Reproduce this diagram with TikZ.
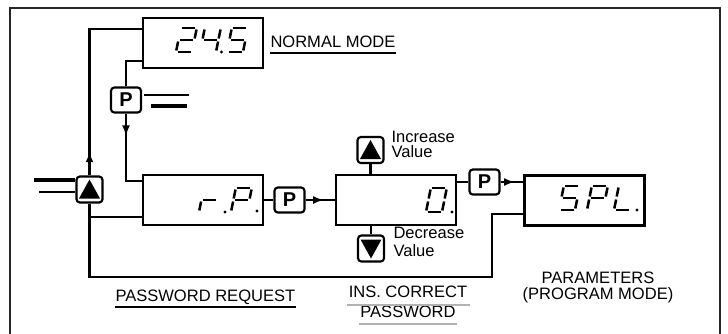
\documentclass[tikz,border=0pt]{standalone}
\usepackage{fontspec}
\setmainfont{Liberation Sans}
\usetikzlibrary{calc,arrows.meta,decorations.markings}

\tikzset{every picture/.style={line width=0.75pt}}
\tikzset{
  wire/.style={line width=1.6pt},
  dispbox/.style={draw,line width=1.6pt,minimum width=90pt,minimum height=37.5pt,inner sep=0pt},
  keybtn/.style={draw,line width=1.6pt,rounded corners=2.5pt,minimum width=22.5pt,minimum height=18.75pt,inner sep=0pt,font=\fontsize{15}{15}\selectfont\bfseries},
  arrowbtn/.style={draw,line width=1.6pt,rounded corners=2.5pt,minimum width=19.5pt,minimum height=19.5pt,inner sep=0pt},
  lbl/.style={inner sep=0pt,font=\fontsize{12.4}{15}\selectfont},
  midarrow/.style={postaction={decorate},decoration={markings,mark=at position #1 with {\arrow{Latex[length=8pt,width=6pt]}}}},
  segline/.style={line width=1.9pt,line cap=butt,xslant=0.2},
  seg a/.pic={\draw[segline] (1.5,24) -- (14.5,24);},
  seg b/.pic={\draw[segline] (16,22.5) -- (16,13.5);},
  seg c/.pic={\draw[segline] (16,10.5) -- (16,1.5);},
  seg d/.pic={\draw[segline] (1.5,0) -- (14.5,0);},
  seg e/.pic={\draw[segline] (0,10.5) -- (0,1.5);},
  seg f/.pic={\draw[segline] (0,22.5) -- (0,13.5);},
  seg g/.pic={\draw[segline] (1.5,12) -- (14.5,12);},
  digit/.pic={\foreach \s in {#1}{\pic {seg \s};}}
}

\begin{document}
\begin{tikzpicture}[x=0.75pt,y=0.75pt,yscale=-1,xscale=1]
\useasboundingbox (0,0) rectangle (728,333);

%Frame
\draw [line width=1.2pt,black!85] (10,340) -- (10,8) -- (720,8) -- (720,340) ;

%Shape: Displays
\node [dispbox] (nrm) at (203,43) {};
\node [dispbox] (req) at (203,200) {};
\node [dispbox] (val) at (396,200) {};
\node [dispbox] (par) at (584.5,200.5) {};

%Shape: Keys
\node [keybtn] (pa) at (126,100) {P};
\node [keybtn] (pb) at (289.5,200) {P};
\node [keybtn] (pc) at (484.5,182) {P};
\node [arrowbtn] (up1) at (89.5,189.5) {};
\node [arrowbtn] (inc) at (370.5,150) {};
\node [arrowbtn] (dec) at (371,248.5) {};
\fill [shift={(up1.center)}] (-10.5,9) -- (10.5,9) -- (0,-10) -- cycle ;
\fill [shift={(inc.center)}] (-10.5,9) -- (10.5,9) -- (0,-10) -- cycle ;
\fill [shift={(dec.center)}] (-10.5,-9) -- (10.5,-9) -- (0,10) -- cycle ;

%Digits
\pic at (176,52) {digit={a,b,g,e,d}};
\pic at (200,52) {digit={f,g,b,c}};
\pic at (227,52) {digit={a,f,g,c,d}};
\pic at (199,212) {digit={e,g}};
\pic at (231,212) {digit={a,b,f,g,e}};
\pic at (426,212) {digit={a,b,c,d,e,f}};
\pic at (559,210) {digit={a,f,g,c,d}};
\pic at (587,210) {digit={a,b,f,g,e}};
\pic at (614,210) {digit={f,e,d}};
\foreach \p in {(221.5,52),(225,212),(257,211),(452,212),(637,210)} \fill \p circle (1.6) ;

%Straight Lines
\draw [wire,midarrow=0.12] (up1.north) |- ($(nrm.north west)+(0,12)$) ;
\draw [wire] ($(nrm.south west)+(0,-8)$) -| (pa.north) ;
\draw [wire,midarrow=0.27] (pa.south) |- ($(req.north west)+(0,7)$) ;
\coordinate (ret) at (492,277);
\draw [wire] (up1.south) |- (ret) |- ($(par.south west)+(0,-13)$) ;
\coordinate (br) at ($(req.south west)+(0,-9)$);
\draw [wire] (up1 |- br) -- (br) ;
\draw [wire] (req.east) -- (pb.west) ;
\draw [wire,midarrow=0.62] (pb.east) -- (val.west) ;
\draw [wire] (inc.south) -- (inc.south |- val.north) ;
\draw [wire] (dec.north |- val.south) -- (dec.north) ;
\draw [wire] (pc.west -| val.east) -- (pc.west) ;
\draw [wire,midarrow=0.62] (pc.east) -- (pc.east -| par.west) ;

%Key press marks
\draw [line width=1.2pt] ($(pa.east)+(2,-5)$) -- ++(45,0) ;
\draw [line width=3pt] ($(pa.east)+(9,6)$) -- ++(36,0) ;
\draw [line width=3pt] ($(up1.west)+(0,-9.5)$) -- ++(-41,0) ;
\draw [line width=2pt] ($(up1.west)+(0,2.5)$) -- ++(-36,0) ;

% Text Node
\node [lbl,anchor=base west] (nml) at (270,47) {NORMAL MODE};
\draw [line width=0.9pt] ($(nml.base west)+(0,6)$) -- ($(nml.base east)+(0,6)$) ;
% Text Node
\node [lbl,anchor=base west] (pwr) at (115,301) {PASSWORD REQUEST};
\draw [line width=0.9pt] ($(pwr.base west)+(0,6)$) -- ($(pwr.base east)+(0,6)$) ;
% Text Node
\node [lbl,font=\fontsize{12.4}{15}\selectfont,align=center,anchor=north] (ins) at (408,285.5) {INS. CORRECT\\PASSWORD};
\draw [line width=0.8pt,black!30] (347,305) -- (470,305) ;
\draw [line width=0.8pt,black!30] (359,324) -- (457,324) ;
% Text Node
\node [lbl,font=\fontsize{12.4}{12}\selectfont,align=center,anchor=north] (prm) at (598,271.5) {PARAMETERS\\(PROGRAM MODE)};
% Text Node
\node [lbl,font=\fontsize{12.4}{11.25}\selectfont,align=left,anchor=north west] (inct) at (391,131) {Increase\\Value};
% Text Node
\node [lbl,font=\fontsize{12.4}{13.5}\selectfont,align=left,anchor=north west] (dect) at (393,227) {Decrease\\Value};

\end{tikzpicture}
\end{document}
